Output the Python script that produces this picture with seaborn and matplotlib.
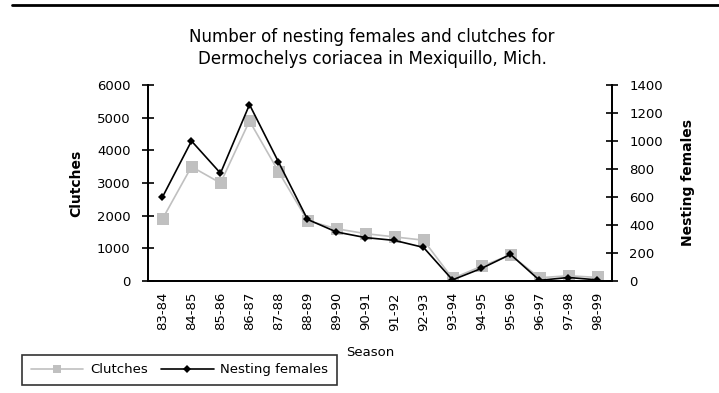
import matplotlib
matplotlib.use("Agg")
import matplotlib.pyplot as plt
import seaborn as sns
import pandas as pd
import numpy as np
from matplotlib.lines import Line2D

seasons = ["83-84", "84-85", "85-86", "86-87", "87-88", "88-89", "89-90", "90-91",
           "91-92", "92-93", "93-94", "94-95", "95-96", "96-97", "97-98", "98-99"]
clutches = [1900, 3500, 3000, 4900, 3350, 1850, 1600, 1450,
            1350, 1250, 80, 450, 800, 100, 160, 110]
nesting_females = [600, 1000, 770, 1260, 850, 440, 350, 310,
                   290, 240, 8, 90, 190, 5, 25, 8]

df = pd.DataFrame({"pos": np.arange(len(seasons)), "Season": seasons,
                   "Clutches": clutches, "Nesting females": nesting_females})

sns.set_style("white")
plt.rcParams["font.family"] = ["DejaVu Sans"]
plt.rcParams["text.color"] = "black"
plt.rcParams["axes.labelcolor"] = "black"
plt.rcParams["xtick.color"] = "black"
plt.rcParams["ytick.color"] = "black"

fig = plt.figure(figsize=(7.19, 3.93), dpi=100)
ax = fig.add_axes([148 / 719, 1 - 281 / 393, (612 - 148) / 719, (281 - 85) / 393])
ax2 = ax.twinx()

sns.lineplot(data=df, x="pos", y="Clutches", ax=ax, color="#c0c0c0", lw=1.2,
             marker="s", markersize=8, markeredgewidth=0, sort=False, label="Clutches",
             legend=False)
sns.lineplot(data=df, x="pos", y="Nesting females", ax=ax2, color="black", lw=1.2,
             marker="D", markersize=4.5, markeredgewidth=0, sort=False,
             label="Nesting females", legend=False)

ax.set_xlim(-0.5, len(seasons) - 0.5)
ax.set_ylim(0, 6000)
ax2.set_ylim(0, 1400)
ax.set_yticks(np.arange(0, 6001, 1000))
ax2.set_yticks(np.arange(0, 1401, 200))

ax.set_xticks(np.arange(len(seasons)))
ax.set_xticklabels(seasons, rotation=90, fontsize=9.5)
ax.set_xticks(np.arange(-0.5, len(seasons)), minor=True)
ax.tick_params(axis="x", which="major", length=0, pad=8)
ax.tick_params(axis="x", which="minor", direction="inout", length=9, width=1.2, color="black")
ax.tick_params(axis="y", direction="inout", length=9, width=1.2, color="black",
               labelsize=9.5, pad=8)
ax2.tick_params(axis="y", direction="inout", length=9, width=1.2, color="black",
                labelsize=9.5, pad=8)

for a in (ax, ax2):
    a.spines["top"].set_visible(False)
    for s in ("left", "right", "bottom"):
        a.spines[s].set_color("black")
        a.spines[s].set_linewidth(1.3)

ax.set_xlabel("")
ax.set_ylabel("Clutches", fontsize=10, fontweight="bold", labelpad=10)
ax2.set_ylabel("Nesting females", fontsize=10, fontweight="bold", labelpad=13)

fig.text(370 / 719, 1 - 352 / 393, "Season", fontsize=9.5, ha="center", va="center")
fig.text(372 / 719, 1 - 48 / 393,
         "Number of nesting females and clutches for\nDermochelys coriacea in Mexiquillo, Mich.",
         fontsize=12, ha="center", va="center", linespacing=1.3)

fig.add_artist(Line2D([12 / 719, 1], [1 - 5 / 393, 1 - 5 / 393], color="black", lw=2))

handles = [Line2D([], [], color="#c0c0c0", lw=1.2, marker="s", markersize=6, markeredgewidth=0),
           Line2D([], [], color="black", lw=1.2, marker="D", markersize=4, markeredgewidth=0)]
leg = fig.legend(handles, ["Clutches", "Nesting females"], loc="lower left",
                 bbox_to_anchor=(22 / 719, 1 - 385 / 393), ncol=2, fontsize=9.5,
                 frameon=True, fancybox=False, handlelength=4.0, columnspacing=1.0,
                 borderpad=0.65, handletextpad=0.5, borderaxespad=0)
leg.get_frame().set_edgecolor("black")
leg.get_frame().set_linewidth(1.2)

fig.savefig("out.png", dpi=100, facecolor="white")
